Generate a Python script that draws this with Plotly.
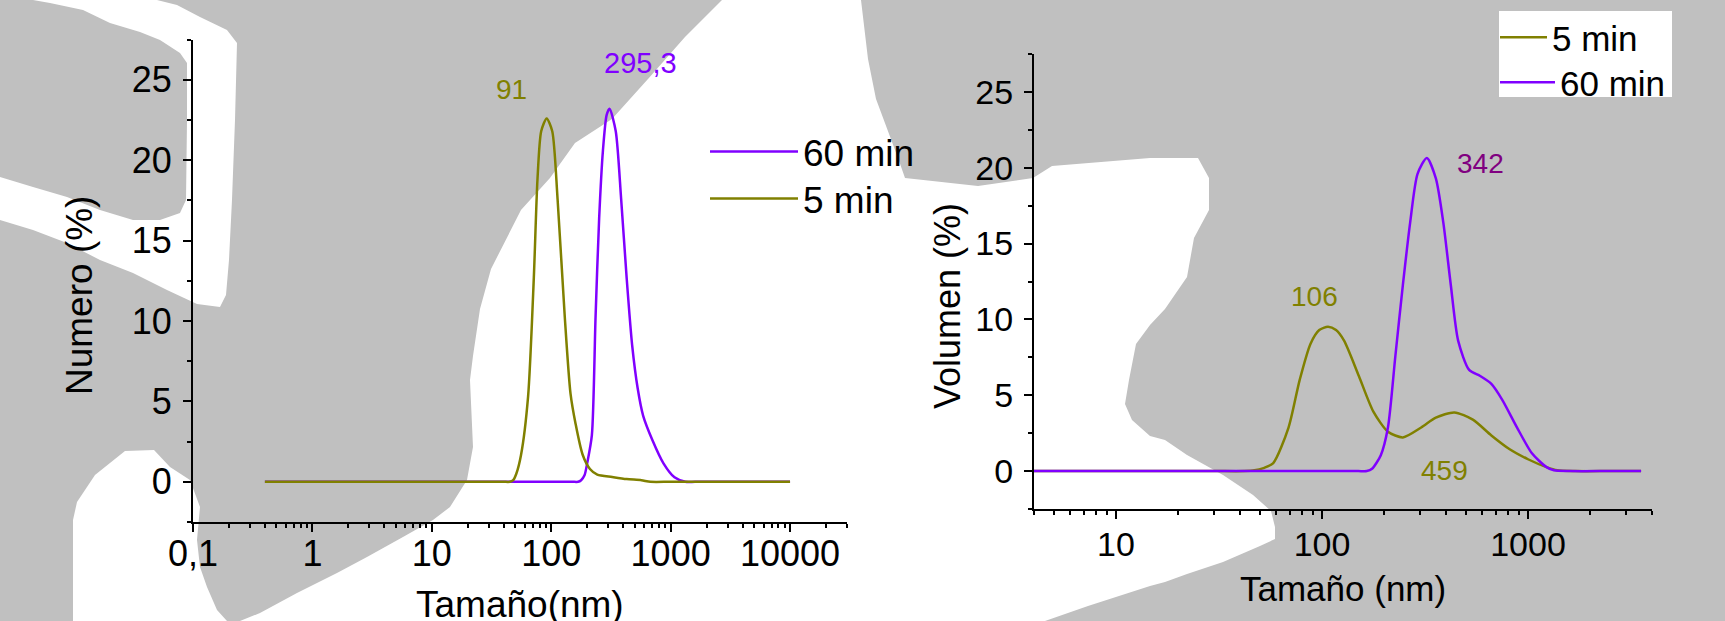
import plotly.graph_objects as go

W, H = 1725, 621

# ---------------- data ----------------
# Left panel: number distribution
num_size_60 = [0.4, 1, 10, 100, 150, 168, 178, 190, 200, 219, 235, 252, 271, 291, 308, 347, 385, 428, 476,
               530, 589, 703, 871, 1077, 1330, 1600, 3000, 10000]
num_val_60 = [0, 0, 0, 0, 0, 0, 0.1, 0.4, 1.15, 2.9, 10.2, 16.4, 20.6, 22.8, 23.2, 21.8, 17.6, 12.7, 8.5,
              5.8, 4.1, 2.6, 1.15, 0.28, 0, 0, 0, 0]

num_size_5 = [0.4, 1, 10, 30, 40, 45, 48, 51, 55.8, 64, 71.5, 76.7, 82.4, 91.6, 102, 113, 130, 145, 160, 183,
              211, 243, 324, 428, 569, 676, 1000, 3000, 10000]
num_val_5 = [0, 0, 0, 0, 0, 0, 0.1, 0.5, 1.65, 5.3, 12.7, 18.8, 21.8, 22.6, 21.8, 17.6, 10.2, 5.5, 3.6, 1.7,
             0.8, 0.45, 0.3, 0.17, 0.1, 0, 0, 0, 0]

# Right panel: volume distribution
vol_size_5 = [4, 10, 30, 42, 47, 52, 58, 68.8, 77.9, 88, 97, 107, 117, 128, 151, 177.6, 209, 247, 303, 357,
              439, 540, 664, 815, 1000, 1230, 1390, 1700, 2500, 3540]
vol_val_5 = [0, 0, 0, 0, 0.05, 0.2, 0.53, 2.87, 6.0, 8.4, 9.3, 9.52, 9.3, 8.6, 6.27, 3.92, 2.6, 2.22, 2.87,
             3.52, 3.87, 3.39, 2.35, 1.44, 0.78, 0.26, 0.05, 0, 0, 0]

vol_size_60 = [4, 10, 100, 150, 165, 175, 193, 209, 227, 247, 268, 291, 323, 357, 388, 422, 458, 518, 586,
               664, 750, 885, 1045, 1230, 1336, 1600, 2500, 3540]
vol_val_60 = [0, 0, 0, 0, 0, 0.15, 1.05, 2.87, 7.57, 12.27, 16.4, 19.6, 20.65, 19.3, 16.4, 12.27, 8.6, 6.67,
              6.27, 5.75, 4.7, 2.87, 1.17, 0.26, 0.05, 0, 0, 0]

num_xtickvals = [0.1, 1, 10, 100, 1000, 10000]
num_xticktext = ["0,1", "1", "10", "100", "1000", "10000"]
vol_xtickvals = [10, 100, 1000]
vol_xticktext = ["10", "100", "1000"]
y_tickvals = [0, 5, 10, 15, 20, 25]

peak_labels_num = ["91", "295,3"]
peak_labels_vol = ["106", "342", "459"]

# ---------------- styles ----------------
OLIVE = "#808000"
VIOLET = "#8000FF"
PURPLE = "#800080"
GRAY = "#C0C0C0"
FONT = "Arial, Liberation Sans, sans-serif"


def px_x(p):
    return p / W


def px_y(p):
    return 1 - p / H


def poly_path(pts):
    s = "M " + " L ".join(f"{px_x(x):.5f},{px_y(y):.5f}" for x, y in pts)
    return s + " Z"


# decorative background blobs (white over gray)
blob_a = [(33, 0), (157, 0), (177, 5), (200, 17), (227, 30), (237, 43), (235, 120), (232, 200), (229, 260),
          (226, 295), (220, 307), (197, 304), (167, 290), (133, 273), (100, 260), (67, 243),
          (33, 230), (0, 220), (0, 177), (33, 187), (67, 197), (100, 210), (133, 220), (160, 220),
          (180, 213), (186, 200), (187, 120), (187, 63), (180, 53), (160, 40), (140, 32), (110, 23),
          (83, 10), (50, 3)]
blob_c = [(73, 621), (73, 520), (77, 502), (95, 475), (125, 451), (154, 450), (170, 467), (190, 480),
          (200, 507), (197, 540), (200, 567), (207, 587), (217, 610), (227, 621)]
blob_mid = [(722, 0), (861, 0), (868, 59), (876, 99), (898, 158), (905, 178), (978, 186), (1033, 178),
            (1052, 166), (1150, 158), (1198, 158), (1209, 178), (1209, 210), (1194, 238), (1187, 277),
            (1165, 309), (1150, 325), (1136, 344), (1129, 380), (1125, 404), (1132, 420), (1150, 436),
            (1165, 440), (1187, 455), (1223, 475), (1253, 495), (1271, 511), (1275, 527), (1275, 539),
            (1260, 546), (1223, 562), (1187, 574), (1165, 582), (1150, 586), (1088, 606), (1045, 621),
            (240, 621), (260, 613), (297, 593), (337, 573), (367, 557), (403, 537), (433, 520),
            (450, 507), (467, 480), (473, 447), (470, 380), (473, 356), (480, 309), (491, 269),
            (521, 210), (550, 178), (575, 143), (612, 119), (648, 79), (685, 37)]

shapes = [dict(type="path", xref="paper", yref="paper", path=poly_path(b),
               fillcolor="white", line=dict(width=0), layer="below")
          for b in (blob_a, blob_c, blob_mid)]
# white box behind the right-hand legend
shapes.append(dict(type="rect", xref="paper", yref="paper", x0=px_x(1499), x1=px_x(1672),
                   y0=px_y(97), y1=px_y(11), fillcolor="white", line=dict(width=0), layer="below"))

# ---------------- figure ----------------
fig = go.Figure()

line_60 = dict(color=VIOLET, width=2.5, shape="spline", smoothing=0.7)
line_5 = dict(color=OLIVE, width=2.5, shape="spline", smoothing=0.7)

fig.add_trace(go.Scatter(x=num_size_60, y=num_val_60, name="60 min", mode="lines", line=line_60,
                         xaxis="x", yaxis="y", legend="legend"))
fig.add_trace(go.Scatter(x=num_size_5, y=num_val_5, name="5 min", mode="lines", line=line_5,
                         xaxis="x", yaxis="y", legend="legend3"))
fig.add_trace(go.Scatter(x=vol_size_5, y=vol_val_5, name="5 min", mode="lines", line=line_5,
                         xaxis="x2", yaxis="y2", legend="legend2"))
fig.add_trace(go.Scatter(x=vol_size_60, y=vol_val_60, name="60 min", mode="lines", line=line_60,
                         xaxis="x2", yaxis="y2", legend="legend4"))

num_minor = [m * 10 ** k for k in range(-1, 5) for m in range(2, 10) if m * 10 ** k <= 30000]
vol_minor = [m * 10 ** k for k in range(0, 4) for m in range(2, 10) if 4 <= m * 10 ** k <= 4000]

axis_common = dict(showline=True, linecolor="black", linewidth=2, ticks="outside", ticklen=8,
                   tickwidth=2, tickcolor="black", showgrid=False, zeroline=False, automargin=False,
                   tickfont=dict(family=FONT, size=36, color="black"))
minor_y = dict(dtick=2.5, tick0=0, ticks="outside", ticklen=4, tickwidth=1.5, tickcolor="black",
               showgrid=False)


def legend_box(x_px, top_px, size, itemwidth):
    return dict(x=px_x(x_px), y=px_y(top_px), xanchor="left", yanchor="top",
                bgcolor="rgba(0,0,0,0)", itemwidth=itemwidth, borderwidth=0,
                font=dict(family=FONT, size=size, color="black"))


fig.update_layout(
    width=W, height=H,
    margin=dict(l=0, r=0, t=0, b=0, pad=0, autoexpand=False),
    paper_bgcolor=GRAY, plot_bgcolor="rgba(0,0,0,0)",
    font=dict(family=FONT, color="black"),
    shapes=shapes,
    xaxis=dict(axis_common, type="log", range=[-1, 4.477], domain=[px_x(193), px_x(847)],
               anchor="y", tickmode="array", tickvals=num_xtickvals, ticktext=num_xticktext,
               ticklabelstandoff=-9,
               minor=dict(tickmode="array", tickvals=num_minor, ticks="outside", ticklen=4,
                          tickwidth=1.5, tickcolor="black", showgrid=False)),
    yaxis=dict(axis_common, range=[-2.5, 27.5], domain=[px_y(522), px_y(39.6)], anchor="x",
               tickmode="array", tickvals=y_tickvals, ticklabelstandoff=4, minor=minor_y),
    xaxis2=dict(axis_common, type="log", range=[0.602, 3.602], domain=[px_x(1034), px_x(1652)],
                anchor="y2", tickmode="array", tickvals=vol_xtickvals, ticktext=vol_xticktext,
                ticklabelstandoff=-4, tickfont=dict(family=FONT, size=34, color="black"),
                minor=dict(tickmode="array", tickvals=vol_minor, ticks="outside", ticklen=4,
                           tickwidth=1.5, tickcolor="black", showgrid=False)),
    yaxis2=dict(axis_common, range=[-2.5, 27.5], domain=[px_y(509), px_y(54)], anchor="x2",
                tickmode="array", tickvals=y_tickvals, ticklabelstandoff=4,
                tickfont=dict(family=FONT, size=34, color="black"), minor=minor_y),
    legend=legend_box(705, 121, 37, 88),
    legend3=legend_box(705, 168, 37, 88),
    legend2=legend_box(1495, 8, 35, 47),
    legend4=legend_box(1495, 53, 35, 55),
    showlegend=True,
)

annotations = [
    # axis titles
    dict(text="Numero (%)", x=px_x(79), y=px_y(296), textangle=-90, font=dict(size=37)),
    dict(text="Tamaño(nm)", x=px_x(520), y=px_y(604), font=dict(size=37)),
    dict(text="Volumen (%)", x=px_x(947), y=px_y(306), textangle=-90, font=dict(size=36)),
    dict(text="Tamaño (nm)", x=px_x(1343), y=px_y(588), font=dict(size=35)),
    # peak labels
    dict(text=peak_labels_num[0], x=px_x(511), y=px_y(90), font=dict(size=28, color=OLIVE)),
    dict(text=peak_labels_num[1], x=px_x(640), y=px_y(63), font=dict(size=29, color=VIOLET)),
    dict(text=peak_labels_vol[0], x=px_x(1314), y=px_y(296), font=dict(size=28, color=OLIVE)),
    dict(text=peak_labels_vol[1], x=px_x(1480), y=px_y(163), font=dict(size=28, color=PURPLE)),
    dict(text=peak_labels_vol[2], x=px_x(1444), y=px_y(470), font=dict(size=28, color=OLIVE)),
]
for a in annotations:
    a.update(xref="paper", yref="paper", showarrow=False, xanchor="center", yanchor="middle")
    a["font"] = dict(family=FONT, color=a["font"].get("color", "black"), size=a["font"]["size"])
fig.update_layout(annotations=annotations)

# the page itself should add no offset around the 1725x621 figure
fig.write_html("out.html", config={"displayModeBar": False},
               post_script="document.body.style.margin='0px';document.body.style.overflow='hidden';")
